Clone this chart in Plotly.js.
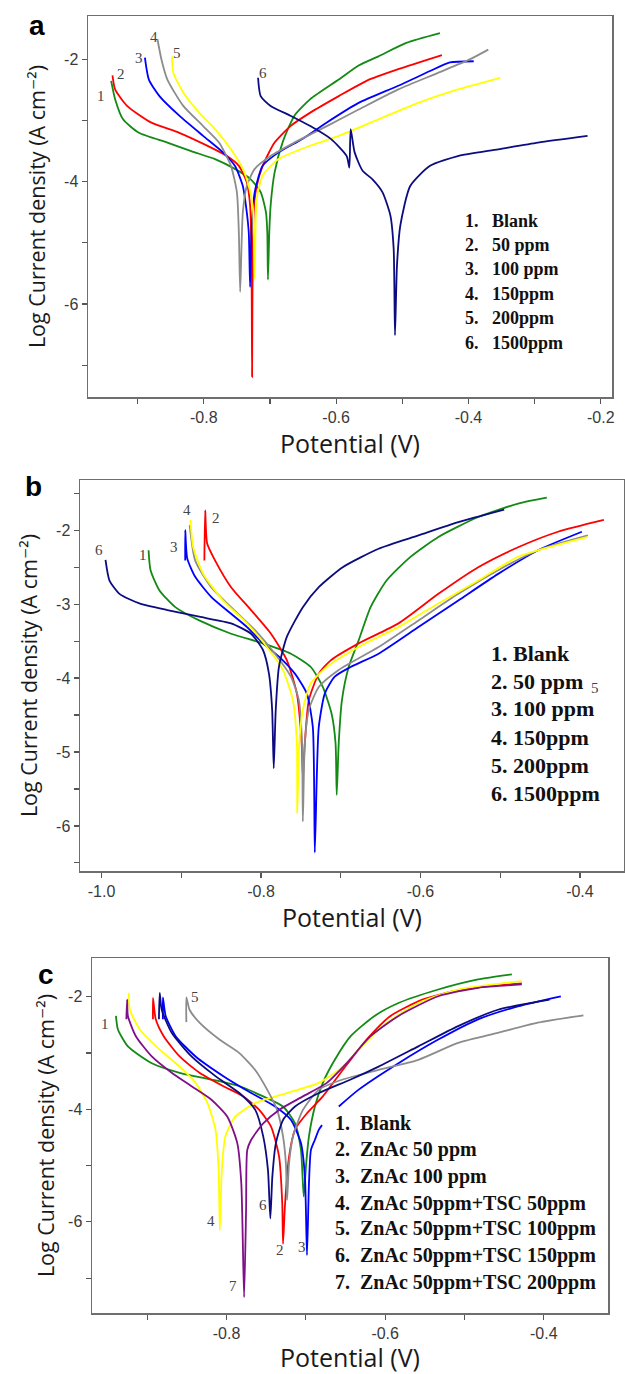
<!DOCTYPE html>
<html>
<head>
<meta charset="utf-8">
<script src="https://cdn.plot.ly/plotly-3.0.1.min.js"></script>
<style>
html,body{margin:0;padding:0;background:#fff;}
#chart{width:625px;height:1374px;}
</style>
</head>
<body>
<div id="chart"></div>
<script>
// ---------------- DATA ----------------
// Panel a
const seriesNamesA = ["Blank","50 ppm","100 ppm","150ppm","200ppm","1500ppm"];
const a1x = [-0.940,-0.934,-0.922,-0.898,-0.855,-0.819,-0.783,-0.753,-0.729,-0.714,-0.706,-0.704,-0.703,-0.701,-0.699,-0.693,-0.681,-0.663,-0.639,-0.596,-0.566,-0.536,-0.494,-0.443];
const a1y = [-2.35,-2.65,-2.98,-3.20,-3.36,-3.50,-3.63,-3.79,-3.96,-4.17,-4.50,-4.83,-5.60,-4.83,-4.39,-3.85,-3.36,-2.92,-2.65,-2.33,-2.10,-1.95,-1.73,-1.57];
const a2x = [-0.938,-0.934,-0.916,-0.880,-0.837,-0.795,-0.765,-0.747,-0.735,-0.730,-0.728,-0.727,-0.726,-0.724,-0.720,-0.711,-0.693,-0.669,-0.639,-0.596,-0.554,-0.506,-0.440];
const a2y = [-2.26,-2.49,-2.76,-3.03,-3.20,-3.41,-3.58,-3.74,-4.01,-4.39,-5.10,-7.19,-5.10,-4.39,-4.07,-3.74,-3.36,-3.09,-2.87,-2.60,-2.35,-2.16,-1.93];
const a3x = [-0.889,-0.883,-0.867,-0.837,-0.801,-0.771,-0.753,-0.741,-0.735,-0.732,-0.730,-0.728,-0.723,-0.711,-0.687,-0.651,-0.614,-0.566,-0.506,-0.458,-0.428,-0.392];
const a3y = [-1.97,-2.33,-2.60,-2.92,-3.25,-3.52,-3.74,-4.07,-4.50,-4.83,-5.72,-4.83,-4.17,-3.74,-3.52,-3.30,-3.03,-2.71,-2.43,-2.19,-2.05,-2.03];
const a4x = [-0.870,-0.864,-0.855,-0.831,-0.801,-0.777,-0.759,-0.750,-0.747,-0.745,-0.741,-0.735,-0.723,-0.699,-0.663,-0.614,-0.566,-0.506,-0.446,-0.398,-0.370];
const a4y = [-1.67,-2.00,-2.33,-2.76,-3.09,-3.36,-3.74,-4.17,-4.83,-5.80,-4.50,-4.07,-3.79,-3.58,-3.36,-3.09,-2.82,-2.49,-2.22,-2.00,-1.84];
const a5x = [-0.848,-0.846,-0.831,-0.807,-0.783,-0.759,-0.741,-0.732,-0.726,-0.723,-0.720,-0.711,-0.687,-0.639,-0.596,-0.536,-0.476,-0.416,-0.352];
const a5y = [-1.95,-2.22,-2.54,-2.87,-3.14,-3.47,-3.79,-4.07,-4.39,-5.59,-4.28,-3.90,-3.63,-3.41,-3.25,-2.98,-2.71,-2.49,-2.30];
const a6x = [-0.718,-0.714,-0.699,-0.669,-0.639,-0.608,-0.584,-0.580,-0.578,-0.572,-0.560,-0.545,-0.530,-0.518,-0.513,-0.511,-0.508,-0.503,-0.488,-0.458,-0.416,-0.355,-0.295,-0.220];
const a6y = [-2.30,-2.60,-2.76,-2.92,-3.09,-3.30,-3.58,-3.77,-3.14,-3.52,-3.82,-3.96,-4.17,-4.55,-5.10,-6.51,-5.37,-4.72,-4.07,-3.74,-3.58,-3.47,-3.36,-3.25];

// Panel b
const seriesNamesB = ["Blank","50 ppm","100 ppm","150ppm","200ppm","1500ppm"];
const b1x = [-0.941,-0.9385,-0.9275,-0.9075,-0.8775,-0.8375,-0.7975,-0.7625,-0.7375,-0.7225,-0.7115,-0.7065,-0.705,-0.7025,-0.6985,-0.690,-0.6775,-0.6625,-0.6425,-0.6125,-0.5775,-0.5275,-0.4775,-0.4415];
const b1y = [-2.27,-2.54,-2.81,-3.04,-3.22,-3.40,-3.53,-3.67,-3.85,-4.12,-4.48,-4.88,-5.58,-4.88,-4.30,-3.85,-3.49,-3.04,-2.68,-2.36,-2.09,-1.82,-1.64,-1.56];
const b2x = [-0.871,-0.870,-0.8675,-0.8575,-0.8375,-0.8125,-0.7875,-0.7675,-0.755,-0.749,-0.7475,-0.745,-0.740,-0.7275,-0.7125,-0.6775,-0.6275,-0.5775,-0.5275,-0.4775,-0.4275,-0.370];
const b2y = [-2.41,-1.73,-2.18,-2.41,-2.77,-3.08,-3.40,-3.76,-4.21,-4.88,-5.33,-4.88,-4.30,-3.94,-3.76,-3.53,-3.26,-2.86,-2.50,-2.23,-2.02,-1.86];
const b3x = [-0.895,-0.895,-0.8925,-0.8825,-0.8625,-0.8375,-0.8175,-0.7975,-0.7775,-0.7575,-0.7425,-0.735,-0.7325,-0.730,-0.7275,-0.720,-0.7075,-0.6875,-0.6525,-0.6025,-0.5525,-0.5025,-0.4525,-0.3975];
const b3y = [-2.41,-2.00,-2.38,-2.63,-2.90,-3.13,-3.31,-3.53,-3.71,-3.94,-4.21,-4.66,-6.36,-5.33,-4.66,-4.21,-3.98,-3.85,-3.67,-3.31,-2.95,-2.59,-2.27,-2.02];
const b4x = [-0.8895,-0.8825,-0.8625,-0.8375,-0.8075,-0.7825,-0.7625,-0.7525,-0.7485,-0.7475,-0.745,-0.740,-0.7275,-0.7025,-0.6525,-0.6025,-0.5525,-0.5025,-0.4525,-0.390];
const b4y = [-1.93,-2.41,-2.77,-3.04,-3.35,-3.67,-3.98,-4.30,-4.88,-5.94,-4.88,-4.43,-4.12,-3.89,-3.58,-3.22,-2.86,-2.54,-2.27,-2.07];
const b5x = [-0.8885,-0.885,-0.8725,-0.8475,-0.8175,-0.7925,-0.7725,-0.760,-0.755,-0.7545,-0.752,-0.7475,-0.7375,-0.7175,-0.6775,-0.6275,-0.5775,-0.5275,-0.4775,-0.390];
const b5y = [-1.86,-2.23,-2.59,-2.95,-3.26,-3.58,-3.89,-4.30,-4.88,-5.83,-4.88,-4.43,-4.07,-3.85,-3.58,-3.31,-2.99,-2.68,-2.36,-2.09];
const b6x = [-0.995,-0.990,-0.9775,-0.9525,-0.9175,-0.8775,-0.8375,-0.8125,-0.7975,-0.790,-0.786,-0.784,-0.7815,-0.7775,-0.7675,-0.7475,-0.7275,-0.6975,-0.6525,-0.6025,-0.5525,-0.495];
const b6y = [-2.40,-2.68,-2.86,-2.99,-3.08,-3.17,-3.26,-3.40,-3.62,-3.94,-4.43,-5.22,-4.43,-3.85,-3.44,-3.04,-2.77,-2.50,-2.25,-2.07,-1.89,-1.72];

// Panel c
const seriesNamesC = ["Blank","ZnAc 50 ppm","ZnAc 100 ppm","ZnAc 50ppm+TSC 50ppm","ZnAc 50ppm+TSC 100ppm","ZnAc 50ppm+TSC 150ppm","ZnAc 50ppm+TSC 200ppm"];
const c1x = [-0.9395,-0.937,-0.9244,-0.8943,-0.8592,-0.8191,-0.7839,-0.7538,-0.7288,-0.7137,-0.7062,-0.7027,-0.6996,-0.6961,-0.6886,-0.6786,-0.6635,-0.6435,-0.6134,-0.5832,-0.5331,-0.4829,-0.4402];
const c1y = [-2.34,-2.58,-2.88,-3.18,-3.35,-3.47,-3.59,-3.77,-3.95,-4.25,-4.72,-5.55,-4.96,-4.48,-3.95,-3.53,-3.12,-2.70,-2.34,-2.11,-1.87,-1.69,-1.60];
const c2x = [-0.8928,-0.8928,-0.8893,-0.8793,-0.8592,-0.8341,-0.804,-0.7789,-0.7588,-0.7438,-0.7338,-0.7298,-0.7288,-0.7262,-0.7212,-0.7137,-0.6986,-0.6786,-0.6535,-0.6234,-0.5933,-0.5531,-0.503,-0.4277];
const c2y = [-2.40,-2.02,-2.40,-2.70,-3.06,-3.35,-3.59,-3.77,-4.01,-4.31,-4.84,-5.67,-6.39,-5.67,-4.84,-4.36,-4.07,-3.77,-3.30,-2.76,-2.34,-2.05,-1.87,-1.76];
const c3x = [-0.8803,-0.8803,-0.8768,-0.8642,-0.8391,-0.804,-0.7689,-0.7388,-0.7187,-0.7062,-0.7012,-0.6986,-0.6961,-0.6936,-0.6886,-0.6836,-0.6796,null,-0.6585,-0.6334,-0.5832,-0.5331,-0.4829,-0.4327,-0.3785];
const c3y = [-2.40,-2.01,-2.34,-2.70,-3.06,-3.41,-3.71,-3.95,-4.19,-4.60,-5.20,-6.59,-5.32,-4.72,-4.54,-4.36,-4.28,null,-3.95,-3.65,-3.18,-2.76,-2.40,-2.17,-1.99];
const c4x = [-0.9234,-0.9219,-0.9094,-0.8843,-0.8592,-0.8391,-0.8241,-0.814,-0.810,-0.8085,-0.806,-0.8015,-0.789,-0.7639,-0.7237,-0.6836,-0.6585,-0.6334,-0.6033,-0.5582,-0.508,-0.4277];
const c4y = [-1.93,-2.23,-2.58,-2.94,-3.24,-3.53,-3.89,-4.36,-5.08,-6.15,-5.08,-4.48,-4.13,-3.89,-3.71,-3.53,-3.30,-2.94,-2.52,-2.11,-1.87,-1.72];
const c5x = [-0.8507,-0.8507,-0.8467,-0.8341,-0.809,-0.7839,-0.7639,-0.7488,-0.7363,-0.7288,-0.7252,-0.7237,-0.7212,-0.7162,-0.7037,-0.6836,-0.6535,-0.6083,-0.5582,-0.508,-0.4578,-0.4076,-0.350];
const c5y = [-2.45,-2.01,-2.23,-2.46,-2.76,-3.00,-3.30,-3.65,-4.01,-4.48,-4.96,-5.61,-4.96,-4.48,-4.01,-3.65,-3.47,-3.30,-3.12,-2.82,-2.64,-2.46,-2.33];
const c6x = [-0.8853,-0.8843,-0.8818,-0.8692,-0.8442,-0.814,-0.7839,-0.7638,-0.7538,-0.7478,-0.7448,-0.7423,-0.7378,-0.7288,-0.7137,-0.6836,-0.6435,-0.6083,-0.5582,-0.508,-0.4578,-0.3926];
const c6y = [-2.40,-1.93,-2.23,-2.64,-3.06,-3.41,-3.71,-4.01,-4.48,-5.08,-5.94,-5.20,-4.60,-4.19,-3.95,-3.71,-3.47,-3.24,-2.88,-2.52,-2.23,-2.05];
const c7x = [-0.9264,-0.9254,-0.9244,-0.9144,-0.8943,-0.8692,-0.8442,-0.8191,-0.799,-0.7865,-0.7814,-0.7779,-0.7754,-0.7739,-0.7689,-0.7538,-0.7338,-0.7037,-0.6735,-0.6485,-0.6184,-0.5832,-0.5331,-0.4829,-0.4277];
const c7y = [-2.40,-2.05,-2.34,-2.70,-3.06,-3.35,-3.59,-3.83,-4.13,-4.60,-5.32,-7.34,-5.79,-4.72,-4.54,-4.25,-4.01,-3.77,-3.53,-3.18,-2.70,-2.34,-1.99,-1.84,-1.78];

// Tick values / labels
const xTickValsA = [-0.8,-0.6,-0.4,-0.2];
const xTickTextA = ["-0.8","-0.6","-0.4","-0.2"];
const xMinorA = [-0.9,-0.7,-0.5,-0.3];
const yTickValsA = [-2,-4,-6];
const yTickTextA = ["-2","-4","-6"];
const yMinorA = [-3,-5,-7];
const xTickValsB = [-1.0,-0.8,-0.6,-0.4];
const xTickTextB = ["-1.0","-0.8","-0.6","-0.4"];
const xMinorB = [-0.9,-0.7,-0.5];
const yTickValsB = [-2,-3,-4,-5,-6];
const yTickTextB = ["-2","-3","-4","-5","-6"];
const yMinorB = [-1.5,-2.5,-3.5,-4.5,-5.5,-6.5];
const xTickValsC = [-0.8,-0.6,-0.4];
const xTickTextC = ["-0.8","-0.6","-0.4"];
const xMinorC = [-0.9,-0.7,-0.5];
const yTickValsC = [-2,-4,-6];
const yTickTextC = ["-2","-4","-6"];
const yMinorC = [-3,-5,-7];

// Curve number labels [x, y, text]
const labelsA = [[-0.955,-2.60,"1"],[-0.925,-2.24,"2"],[-0.898,-1.97,"3"],[-0.875,-1.63,"4"],[-0.840,-1.89,"5"],[-0.710,-2.22,"6"]];
const labelsB = [[-1.0035,-2.27,"6"],[-0.9485,-2.34,"1"],[-0.9085,-2.22,"3"],[-0.8925,-1.73,"4"],[-0.8565,-1.84,"2"],[-0.3810,-4.13,"5"]];
const labelsC = [[-0.9535,-2.49,"1"],[-0.8401,-2.00,"5"],[-0.8201,-5.98,"4"],[-0.7538,-5.70,"6"],[-0.7323,-6.50,"2"],[-0.7052,-6.44,"3"],[-0.7915,-7.14,"7"]];

// ---------------- STYLE ----------------
const colA = ["#138a13","#ff0000","#0000ff","#8c8c8c","#ffff00","#0c0c80"];
const colB = ["#138a13","#ff0000","#0000ff","#8c8c8c","#ffff00","#0c0c80"];
const colC = ["#138a13","#ff0000","#0000ff","#ffff00","#8c8c8c","#0c0c80","#800f8a"];

const W = 625, H = 1374;
const px = v => v / W;
const py = v => 1 - v / H;

const traces = [];
function addSeries(xs, ys, cols, names, xa, ya){
  xs.forEach((x,i)=>{
    traces.push({x:x, y:ys[i], type:"scatter", mode:"lines", name:names[i],
      xaxis:xa, yaxis:ya, showlegend:false, connectgaps:false,
      line:{color:cols[i], width:1.8, shape:"spline", smoothing:0.6}});
  });
}
addSeries([a1x,a2x,a3x,a4x,a5x,a6x],[a1y,a2y,a3y,a4y,a5y,a6y],colA,seriesNamesA,"x","y");
addSeries([b1x,b2x,b3x,b4x,b5x,b6x],[b1y,b2y,b3y,b4y,b5y,b6y],colB,seriesNamesB,"x2","y2");
addSeries([c1x,c2x,c3x,c4x,c5x,c6x,c7x],[c1y,c2y,c3y,c4y,c5y,c6y,c7y],colC,seriesNamesC,"x3","y3");

const tickFont = {family:"Liberation Sans, Arial, sans-serif", size:16, color:"#3a3a3a"};
const xTitleFont = {family:"Open Sans, sans-serif", size:25, color:"#1a1a1a"};
const yTitleFont = {family:"Open Sans, DejaVu Sans, sans-serif", size:21.5, color:"#1a1a1a"};
const yTitleText = "Log Current density (A cm\u207B\u00B2)";

function minorCfg(vals){
  return {tickmode:"array", tickvals:vals, ticks:"outside", ticklen:5, tickwidth:1.2, tickcolor:"#555", showgrid:false};
}
function xAxis(domain, range, tv, tt, mv, anchor){
  return {domain:domain, range:range, anchor:anchor, tickmode:"array", tickvals:tv, ticktext:tt,
    minor:minorCfg(mv),
    ticks:"outside", ticklen:5, tickwidth:1.2, tickcolor:"#555", showline:true, mirror:true,
    linecolor:"#6e6e6e", linewidth:1.5, showgrid:false, zeroline:false, tickfont:tickFont,
    title:{text:"Potential (V)", font:xTitleFont, standoff:6}};
}
function yAxis(domain, range, tv, tt, mv, anchor, so){
  return {domain:domain, range:range, anchor:anchor, tickmode:"array", tickvals:tv, ticktext:tt,
    minor:minorCfg(mv),
    ticks:"outside", ticklen:5, tickwidth:1.2, tickcolor:"#555", showline:true, mirror:true,
    linecolor:"#6e6e6e", linewidth:1.5, showgrid:false, zeroline:false, tickfont:tickFont,
    title:{text:yTitleText, font:yTitleFont, standoff:so}};
}

const layout = {
  width:W, height:H, margin:{l:0,r:0,t:0,b:0}, paper_bgcolor:"#fff", plot_bgcolor:"#fff",
  showlegend:false,
  xaxis: xAxis([px(88),px(612)],[-0.975,-0.183],xTickValsA,xTickTextA,xMinorA,"y"),
  yaxis: yAxis([py(397),py(16)],[-7.52,-1.29],yTickValsA,yTickTextA,yMinorA,"x",12),
  xaxis2: xAxis([px(80),px(624)],[-1.027,-0.3447],xTickValsB,xTickTextB,xMinorB,"y2"),
  yaxis2: yAxis([py(871),py(480)],[-6.61,-1.32],yTickValsB,yTickTextB,yMinorB,"x2",12),
  xaxis3: xAxis([px(92),px(608)],[-0.9697,-0.319],xTickValsC,xTickTextC,xMinorC,"y3"),
  yaxis3: yAxis([py(1313),py(958)],[-7.62,-1.31],yTickValsC,yTickTextC,yMinorC,"x3",7),
  annotations:[]
};

// panel letters
[["a",37,26],["b",33,486],["c",46,974]].forEach(p=>{
  layout.annotations.push({text:"<b>"+p[0]+"</b>", x:px(p[1]), y:py(p[2]), xref:"paper", yref:"paper",
    showarrow:false, xanchor:"center", yanchor:"middle",
    font:{family:"Liberation Sans, Arial, sans-serif", size:28, color:"#000"}});
});

// curve number labels
const numFont = {family:"Liberation Serif, Times New Roman, serif", size:15, color:"#444"};
function addNums(list, xr, yr){
  list.forEach(l=>layout.annotations.push({text:l[2], x:l[0], y:l[1], xref:xr, yref:yr,
    showarrow:false, xanchor:"center", yanchor:"middle", font:numFont}));
}
addNums(labelsA,"x","y"); addNums(labelsB,"x2","y2"); addNums(labelsC,"x3","y3");

// legends as text
function addLegend(names, x0, rows, size, sep){
  names.forEach((n,i)=>layout.annotations.push({text:"<b>"+(i+1)+"."+sep+n+"</b>",
    x:px(x0), y:py(rows[i]), xref:"paper", yref:"paper", showarrow:false,
    xanchor:"left", yanchor:"middle",
    font:{family:"Liberation Serif, Times New Roman, serif", size:size, color:"#111"}}));
}
addLegend(seriesNamesA, 463, [221,245,269,294,318,343], 18, "\u00a0\u00a0\u00a0");
addLegend(seriesNamesB, 489, [653,681,708,737,765,793], 22, "\u00a0");
addLegend(seriesNamesC, 333, [1123,1149,1176,1203,1228,1255,1282], 20, "\u00a0\u00a0");

Plotly.newPlot("chart", traces, layout, {staticPlot:true, displayModeBar:false});
</script>
</body>
</html>
